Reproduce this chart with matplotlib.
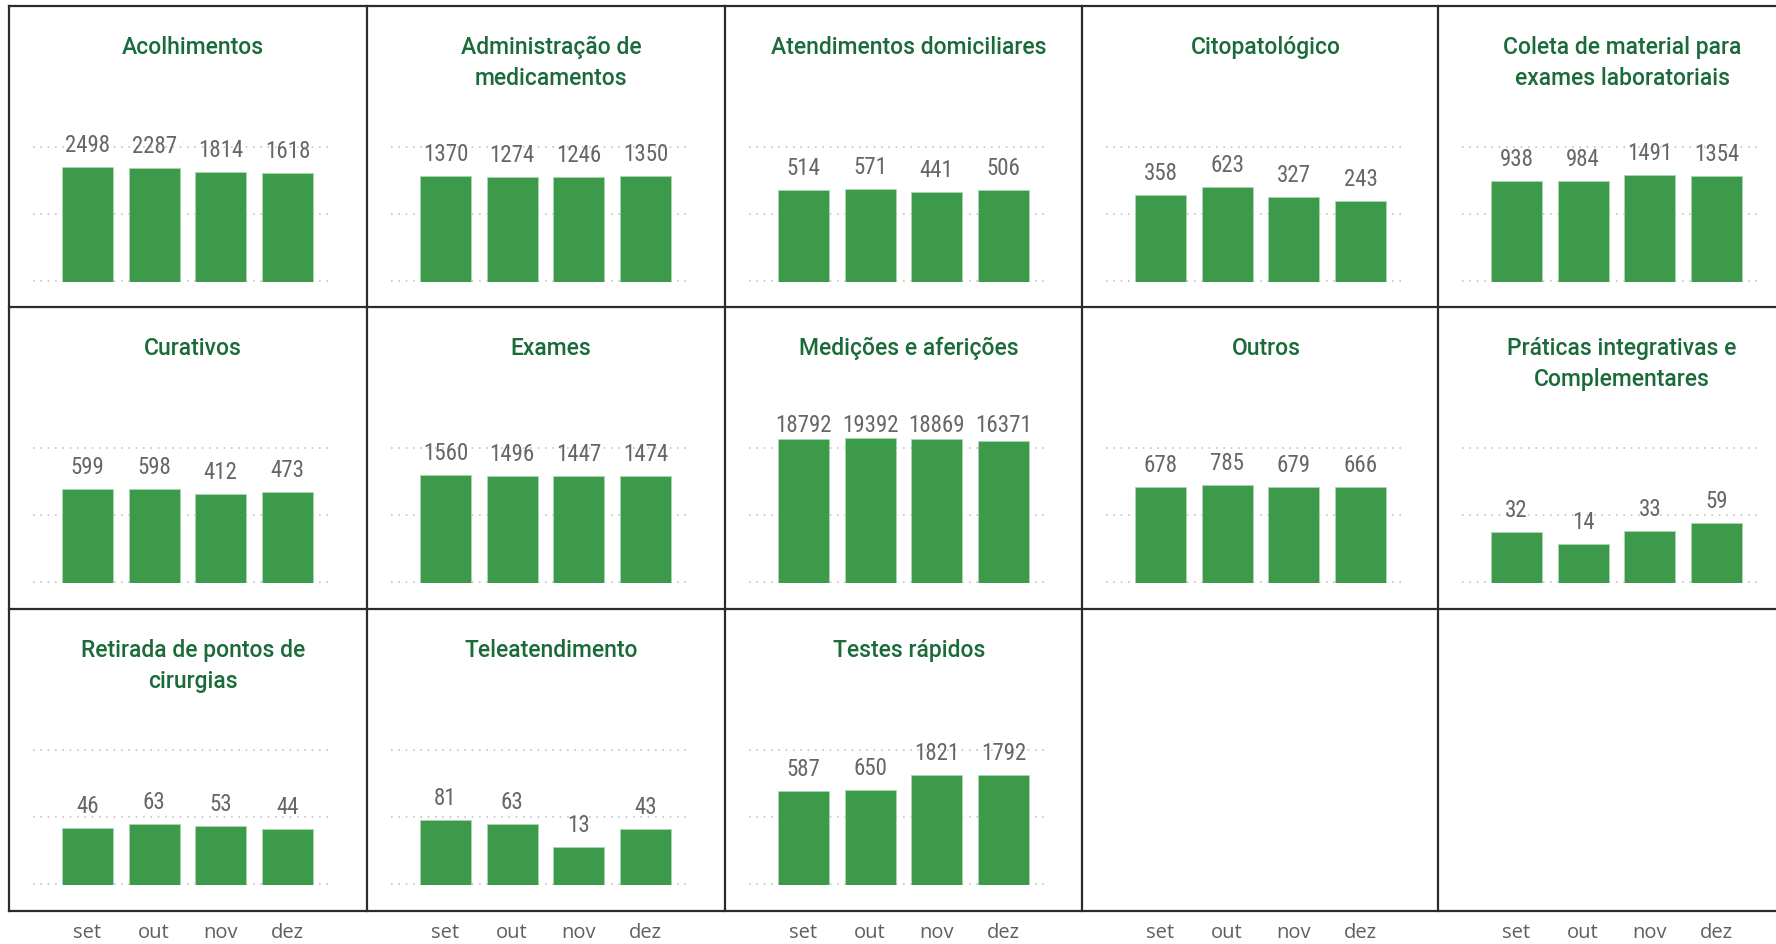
import numpy as np
import matplotlib
matplotlib.use("Agg")
import matplotlib.pyplot as plt
from matplotlib.lines import Line2D

months = ["set", "out", "nov", "dez"]
titles = [
    "Acolhimentos",
    "Administração de\nmedicamentos",
    "Atendimentos domiciliares",
    "Citopatológico",
    "Coleta de material para\nexames laboratoriais",
    "Curativos",
    "Exames",
    "Medições e aferições",
    "Outros",
    "Práticas integrativas e\nComplementares",
    "Retirada de pontos de\ncirurgias",
    "Teleatendimento",
    "Testes rápidos",
]
acolhimentos = [2498, 2287, 1814, 1618]
administracao = [1370, 1274, 1246, 1350]
atendimentos = [514, 571, 441, 506]
citopatologico = [358, 623, 327, 243]
coleta = [938, 984, 1491, 1354]
curativos = [599, 598, 412, 473]
exames = [1560, 1496, 1447, 1474]
medicoes = [18792, 19392, 18869, 16371]
outros = [678, 785, 679, 666]
praticas = [32, 14, 33, 59]
retirada = [46, 63, 53, 44]
teleatendimento = [81, 63, 13, 43]
testes = [587, 650, 1821, 1792]
series = [acolhimentos, administracao, atendimentos, citopatologico, coleta,
          curativos, exames, medicoes, outros, praticas,
          retirada, teleatendimento, testes]

W, H = 1776, 944
fig = plt.figure(figsize=(W / 100, H / 100), dpi=100)
fig.patch.set_facecolor("white")

BAR = "#3D9A4A"
TITLE_C = "#1B6B3A"
LABEL_C = "#666666"
GRID_C = "#C4C4C4"
LABEL_FONT = ["Roboto Condensed", "Liberation Sans Narrow", "Roboto", "DejaVu Sans"]

col_left = [9, 367, 725, 1082, 1438]
row_top = [6, 307, 609]
dec_px = 33.5
ytop_dec = 4.93
ybot_dec = -0.03

def fx(px):
    return px / W

def fy(py):
    return 1 - py / H

for r in range(3):
    for c in range(5):
        i = r * 5 + c
        pl = col_left[c]
        pt = row_top[r]
        base = pt + 275
        ax_l = pl + 24
        ax_w = 300
        ax_top = base - ytop_dec * dec_px
        ax_bot = base - ybot_dec * dec_px
        ax = fig.add_axes([fx(ax_l), fy(ax_bot), ax_w / W, (ax_bot - ax_top) / H])
        ax.set_yscale("log")
        ax.set_ylim(10 ** ybot_dec, 10 ** ytop_dec)
        ax.set_xlim(-0.817, 3.683)
        for s in ax.spines.values():
            s.set_visible(False)
        ax.set_yticks([])
        ax.yaxis.set_minor_locator(matplotlib.ticker.NullLocator())
        ax.patch.set_alpha(0)
        x = np.arange(len(months))
        if i < len(series):
            vals = series[i]
            for gv in [1, 100, 10000]:
                ax.axhline(gv, color=GRID_C, lw=1.2, ls=(0, (1, 3.4)), zorder=0)
            ax.bar(x, vals, width=0.765, color=BAR, edgecolor="#A8D8B0",
                   linewidth=0.6, zorder=2)
            cap = 10 ** 4.47
            for xi, v in zip(x, vals):
                yl = min(v * 10 ** 0.45, cap)
                ax.text(xi, yl, f"{v}", ha="center", va="baseline",
                        fontsize=16.5, color=LABEL_C, family=LABEL_FONT,
                        zorder=3)
            fig.text(fx(pl + 184), fy(pt + 30), titles[i], ha="center", va="top",
                     fontsize=16.5, color=TITLE_C, family=["Roboto", "DejaVu Sans"],
                     fontweight="medium", linespacing=1.42)
        if r == 2:
            ax.set_xticks(x, months)
            ax.tick_params(axis="x", length=0, pad=27, labelsize=14.5,
                           labelcolor="#5f5f5f")
            for lab in ax.get_xticklabels():
                lab.set_family(["Open Sans", "DejaVu Sans"])
        else:
            ax.set_xticks([])

# panel borders
for y in [6, 307, 609, 911]:
    fig.add_artist(Line2D([fx(9), fx(1776)], [fy(y), fy(y)], color="#2b2b2b", lw=1.6))
for xx in col_left:
    fig.add_artist(Line2D([fx(xx), fx(xx)], [fy(6), fy(911)], color="#2b2b2b", lw=1.6))

fig.savefig("out.png", dpi=100, facecolor="white")
